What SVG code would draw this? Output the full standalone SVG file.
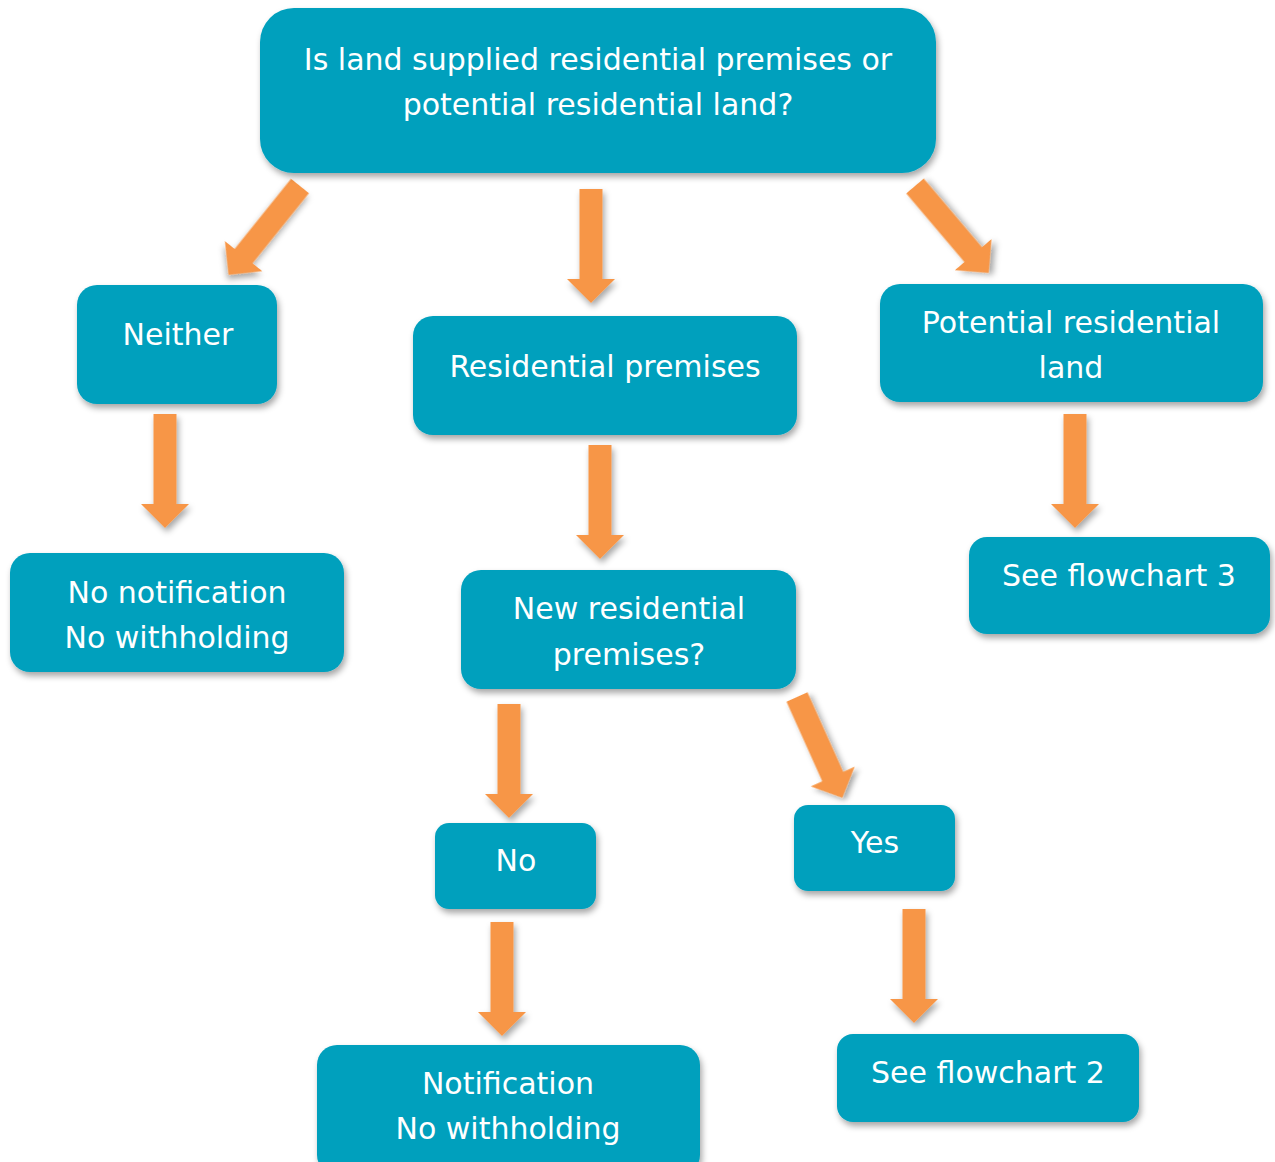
<svg xmlns="http://www.w3.org/2000/svg" width="1275" height="1162" viewBox="0 0 1275 1162">
<defs>
<filter id="sh" x="-20%" y="-20%" width="140%" height="150%">
<feDropShadow dx="2" dy="4" stdDeviation="3" flood-color="#000" flood-opacity="0.35"/>
</filter>
<path id="arr" d="M-11.5,0 H11.5 V90 H24 L0,114 L-24,90 H-11.5 Z"/>
</defs>
<style>
.box{fill:#00A0BD;filter:url(#sh)}
.t{fill:#fff;font-family:"DejaVu Sans","Liberation Sans",sans-serif;font-size:30px;text-anchor:middle;font-weight:normal}
.a{fill:#F79646;filter:url(#sh)}
</style>
<rect width="1275" height="1162" fill="#fff"/>
<g id="connectors">
<use href="#arr" class="a" transform="translate(300,186) rotate(38.8)"/>
<use href="#arr" class="a" transform="translate(591,189)"/>
<use href="#arr" class="a" transform="translate(915,186) rotate(-40.3)"/>
<use href="#arr" class="a" transform="translate(165,414)"/>
<use href="#arr" class="a" transform="translate(600,445)"/>
<use href="#arr" class="a" transform="translate(1075,414)"/>
<use href="#arr" class="a" transform="translate(509,704)"/>
<use href="#arr" class="a" transform="translate(797,697) rotate(-24.2) scale(1,0.97)"/>
<use href="#arr" class="a" transform="translate(502,922)"/>
<use href="#arr" class="a" transform="translate(914,909)"/>
</g>
<g id="n-top">
<rect class="box" x="260" y="8" width="676" height="165" rx="34"/>
<text class="t" x="598" y="70">Is land supplied residential premises or</text>
<text class="t" x="598" y="115">potential residential land?</text>
</g>
<g id="n-neither">
<rect class="box" x="77" y="285" width="200" height="119" rx="20"/>
<text class="t" x="178" y="345">Neither</text>
</g>
<g id="n-residential">
<rect class="box" x="413" y="316" width="384" height="119" rx="20"/>
<text class="t" x="605" y="377">Residential premises</text>
</g>
<g id="n-potential">
<rect class="box" x="880" y="284" width="383" height="118" rx="20"/>
<text class="t" x="1071" y="333">Potential residential</text>
<text class="t" x="1071" y="378">land</text>
</g>
<g id="n-nonotification">
<rect class="box" x="10" y="553" width="334" height="119" rx="20"/>
<text class="t" x="177" y="603">No notification</text>
<text class="t" x="177" y="648">No withholding</text>
</g>
<g id="n-new">
<rect class="box" x="461" y="570" width="335" height="119" rx="20"/>
<text class="t" x="629" y="619">New residential</text>
<text class="t" x="629" y="665">premises?</text>
</g>
<g id="n-fc3">
<rect class="box" x="969" y="537" width="301" height="97" rx="18"/>
<text class="t" x="1119" y="586">See flowchart 3</text>
</g>
<g id="n-no">
<rect class="box" x="435" y="823" width="161" height="86" rx="14"/>
<text class="t" x="516" y="871">No</text>
</g>
<g id="n-yes">
<rect class="box" x="794" y="805" width="161" height="86" rx="14"/>
<text class="t" x="875" y="853">Yes</text>
</g>
<g id="n-notification">
<rect class="box" x="317" y="1045" width="383" height="130" rx="20"/>
<text class="t" x="508" y="1094">Notification</text>
<text class="t" x="508" y="1139">No withholding</text>
</g>
<g id="n-fc2">
<rect class="box" x="837" y="1034" width="302" height="88" rx="16"/>
<text class="t" x="988" y="1083">See flowchart 2</text>
</g>
</svg>
